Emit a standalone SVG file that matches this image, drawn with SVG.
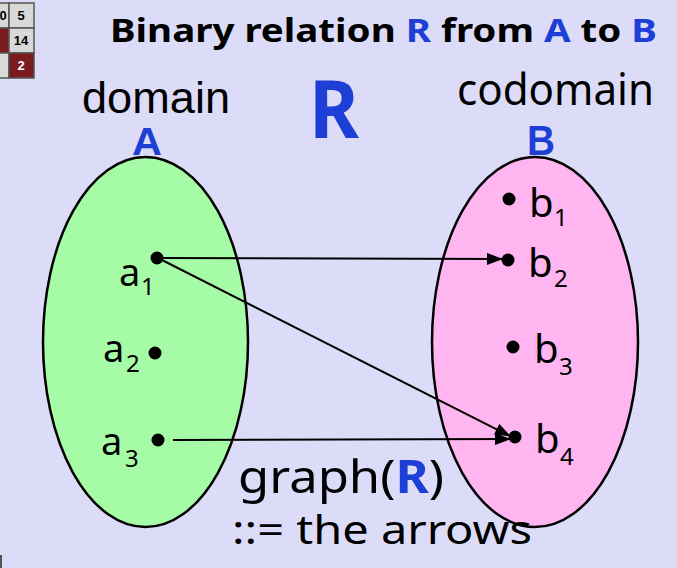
<svg xmlns="http://www.w3.org/2000/svg" width="677" height="568" viewBox="0 0 677 568">
<defs>
<style>
.t{font-family:"Noto Sans","DejaVu Sans",sans-serif;fill:#000}
.l{font-family:"Liberation Sans",Arial,sans-serif;fill:#000}
.b{fill:#1d3fd6}
.dot{fill:#000}
.conn{stroke:#000;stroke-width:2;fill:none}
.cell{fill:#d9d9d9;stroke:#555;stroke-width:1.5}
.red{fill:#7a1b1f;stroke:#555;stroke-width:1.5}
.num{font-family:"Liberation Sans",Arial,sans-serif;font-weight:bold;font-size:13px;text-anchor:middle}
</style>
<marker id="ah" markerWidth="16" markerHeight="12" refX="15" refY="6" orient="auto" markerUnits="userSpaceOnUse">
<path d="M0,0 L16,6 L0,12 Z" fill="#000"/>
</marker>
</defs>
<rect width="677" height="568" fill="#dcdcf8"/>
<g id="table">
<rect class="cell" x="-20" y="3" width="29" height="25"/>
<rect class="cell" x="9" y="3" width="25" height="25"/>
<rect class="red" x="-20" y="28" width="29" height="25"/>
<rect class="cell" x="9" y="28" width="25" height="25"/>
<rect class="cell" x="-20" y="53" width="29" height="25"/>
<rect class="red" x="9" y="53" width="25" height="25"/>
<text class="num" x="3" y="20">0</text>
<text class="num" x="21" y="20">5</text>
<text class="num" x="21" y="45">14</text>
<text class="num" x="21" y="70" fill="#fff">2</text>
</g>
<rect x="0" y="555" width="2" height="13" fill="#555"/>
<g id="title">
<text class="t" x="110" y="42" font-size="33" font-weight="bold" textLength="547" lengthAdjust="spacingAndGlyphs">Binary relation <tspan class="b">R</tspan> from <tspan class="b">A</tspan> to <tspan class="b">B</tspan></text>
</g>
<g id="labelR">
<text class="t b" x="309" y="138" font-size="80" font-weight="bold" textLength="50" lengthAdjust="spacingAndGlyphs">R</text>
</g>
<g id="setA">
<text class="l" x="82" y="113" font-size="44" textLength="148" lengthAdjust="spacingAndGlyphs">domain</text>
<text class="l b" x="132" y="155" font-size="39" font-weight="bold" textLength="30" lengthAdjust="spacingAndGlyphs">A</text>
<ellipse cx="145.5" cy="342" rx="102.5" ry="185" fill="#a6fca6" stroke="#000" stroke-width="2.5"/>
</g>
<g id="setB">
<text class="t" x="457" y="105" font-size="44" textLength="197" lengthAdjust="spacingAndGlyphs">codomain</text>
<text class="l b" x="527" y="155" font-size="43" font-weight="bold" textLength="28" lengthAdjust="spacingAndGlyphs">B</text>
<ellipse cx="535" cy="342" rx="103" ry="185" fill="#ffb5f0" stroke="#000" stroke-width="2.5"/>
</g>
<g id="a1"><circle class="dot" cx="157" cy="258" r="6.5"/><text class="t" x="119" y="286" font-size="38">a</text><text class="t" x="141" y="295" font-size="24">1</text></g>
<g id="a2"><circle class="dot" cx="155" cy="353" r="6.5"/><text class="t" x="103" y="362" font-size="38">a</text><text class="t" x="126" y="372" font-size="24">2</text></g>
<g id="a3"><circle class="dot" cx="158" cy="440" r="6.5"/><text class="t" x="101" y="455" font-size="38">a</text><text class="t" x="125" y="467" font-size="24">3</text></g>
<g id="b1"><circle class="dot" cx="509" cy="199" r="6.5"/><text class="t" x="529" y="217" font-size="40">b</text><text class="t" x="554" y="226" font-size="24">1</text></g>
<g id="b2"><circle class="dot" cx="508" cy="260" r="6.5"/><text class="t" x="528" y="277" font-size="40">b</text><text class="t" x="554" y="287" font-size="24">2</text></g>
<g id="b3"><circle class="dot" cx="513" cy="347" r="6.5"/><text class="t" x="534" y="363" font-size="40">b</text><text class="t" x="559" y="375" font-size="24">3</text></g>
<g id="b4"><circle class="dot" cx="515" cy="437" r="6.5"/><text class="t" x="535" y="453" font-size="40">b</text><text class="t" x="560" y="465" font-size="24">4</text></g>
<g id="connectors">
<line class="conn" x1="160" y1="258" x2="502" y2="259" marker-end="url(#ah)"/>
<line class="conn" x1="160" y1="259" x2="510" y2="436" marker-end="url(#ah)"/>
<line class="conn" x1="173" y1="440" x2="510" y2="439" marker-end="url(#ah)"/>
</g>
<g id="caption">
<text class="t" x="238" y="493" font-size="46" textLength="206" lengthAdjust="spacingAndGlyphs">graph(<tspan class="b" font-weight="bold">R</tspan>)</text>
<text class="t" x="232" y="544" font-size="40" textLength="300" lengthAdjust="spacingAndGlyphs">::= the arrows</text>
</g>
</svg>
